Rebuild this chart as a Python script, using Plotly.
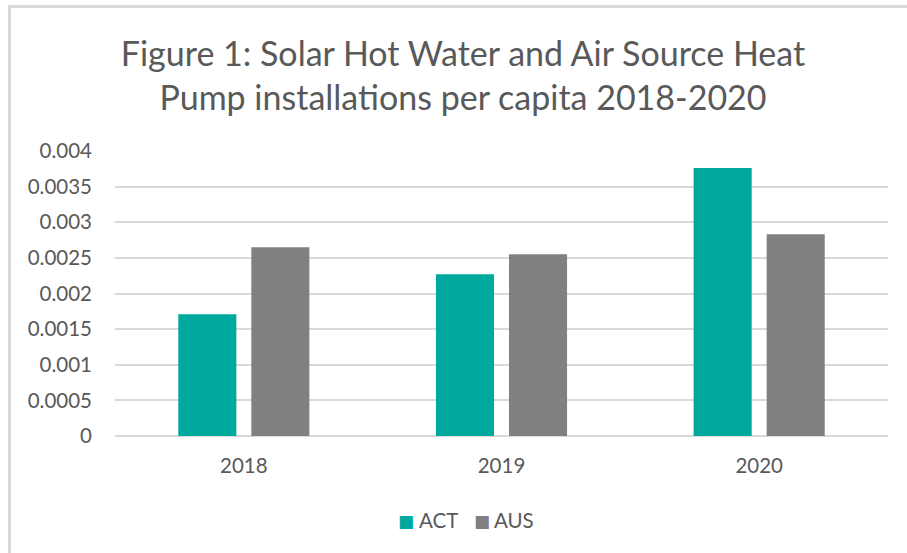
import plotly.graph_objects as go

years = ["2018", "2019", "2020"]
act = [0.00171, 0.00227, 0.00376]
aus = [0.00265, 0.00255, 0.00283]
yticks = [0, 0.0005, 0.001, 0.0015, 0.002, 0.0025, 0.003, 0.0035, 0.004]
ytick_text = ["0", "0.0005", "0.001", "0.0015", "0.002", "0.0025", "0.003", "0.0035", "0.004"]
series_names = ["ACT", "AUS"]
series_colors = ["#00A99D", "#808080"]

W, H = 907, 553
L, R, T, B = 115, 19, 151, 117
pw, ph = W - L - R, H - T - B

def px_x(x):
    return (x - L) / pw

def px_y(y):
    return (H - B - y) / ph

FONT = "Lato"
GREY = "#595959"

fig = go.Figure()
fig.add_trace(go.Bar(name=series_names[0], x=years, y=act, marker=dict(color=series_colors[0], line=dict(width=0))))
fig.add_trace(go.Bar(name=series_names[1], x=years, y=aus, marker=dict(color=series_colors[1], line=dict(width=0))))

fig.update_layout(
    width=W, height=H,
    margin=dict(l=L, r=R, t=T, b=B),
    paper_bgcolor="white", plot_bgcolor="white",
    barmode="group", bargap=0.433, bargroupgap=0.205,
    font=dict(family=FONT, color=GREY, size=20),
    title=dict(
        text="Figure 1: Solar Hot Water and Air Source Heat<br>Pump installations per capita 2018-2020",
        x=463 / W, xanchor="center", xref="container", y=1 - 66 / H, yanchor="middle",
        font=dict(family=FONT, size=34, color=GREY),
    ),
    xaxis=dict(showgrid=False, showline=False, ticks="", ticklabelstandoff=15,
               tickfont=dict(size=20.5, color=GREY)),
    yaxis=dict(range=[0, 0.004], tickvals=yticks, ticktext=ytick_text, showgrid=True,
               gridcolor="#d9d9d9", gridwidth=2, zeroline=True, zerolinecolor="#d9d9d9",
               zerolinewidth=2, ticks="", ticklabelstandoff=22, tickfont=dict(size=20.5, color=GREY)),
    showlegend=False,
)

# legend drawn as text items (compact, Excel style)
leg_items = [(406, 417, 0), (482, 492, 1)]
for sq_x, tx_x, i in leg_items:
    fig.add_annotation(x=px_x(sq_x), y=px_y(521), xref="paper", yref="paper", text="■",
                       showarrow=False, xanchor="center", yanchor="middle",
                       font=dict(family="DejaVu Sans", size=17, color=series_colors[i]))
    fig.add_annotation(x=px_x(tx_x), y=px_y(520), xref="paper", yref="paper", text=series_names[i],
                       showarrow=False, xanchor="left", yanchor="middle",
                       font=dict(family=FONT, size=20.5, color=GREY))

fig.add_shape(type="rect", xref="paper", yref="paper",
              x0=px_x(9.5), x1=px_x(W + 20), y0=px_y(H + 20), y1=px_y(6.5),
              line=dict(color="#d9d9d9", width=3), fillcolor="rgba(0,0,0,0)", layer="below")

fig.write_html("out.html", config={"displayModeBar": False},
               post_script="document.body.style.margin='0';")
